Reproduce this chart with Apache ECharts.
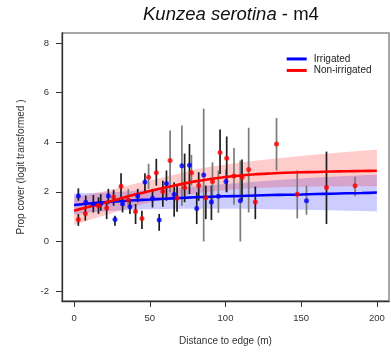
<!DOCTYPE html>
<html>
<head>
<meta charset="utf-8">
<script src="https://cdn.jsdelivr.net/npm/echarts@6/dist/echarts.min.js"></script>
<style>
  html, body { margin: 0; padding: 0; background: #fff; }
  #chart { width: 391px; height: 353px; }
</style>
</head>
<body>
<div id="chart"></div>
<script>
// Tick labels
const xTicks = [0, 50, 100, 150, 200];
const yTicks = [-2, 0, 2, 4, 6, 8];

// Fitted curves along distance to edge (m)
const curveX = [0, 10, 20, 30, 40, 50, 60, 70, 80, 90, 100, 110, 120, 130, 140, 150, 160, 170, 180, 190, 200];
const irrigatedFit   = [1.47, 1.53, 1.58, 1.62, 1.66, 1.69, 1.72, 1.75, 1.78, 1.80, 1.82, 1.83, 1.85, 1.87, 1.88, 1.89, 1.91, 1.92, 1.94, 1.95, 1.97];
const irrigatedLower = [1.10, 1.17, 1.22, 1.25, 1.28, 1.30, 1.31, 1.32, 1.32, 1.32, 1.32, 1.32, 1.31, 1.30, 1.29, 1.28, 1.27, 1.26, 1.24, 1.23, 1.21];
const irrigatedUpper = [1.93, 1.95, 1.97, 2.00, 2.04, 2.08, 2.12, 2.16, 2.21, 2.26, 2.31, 2.36, 2.41, 2.46, 2.50, 2.54, 2.58, 2.61, 2.64, 2.67, 2.69];
const nonIrrFit      = [1.24, 1.40, 1.55, 1.72, 1.89, 2.03, 2.17, 2.30, 2.42, 2.52, 2.60, 2.66, 2.71, 2.74, 2.77, 2.79, 2.80, 2.82, 2.83, 2.84, 2.85];
const nonIrrLower    = [0.65, 0.86, 1.05, 1.24, 1.42, 1.57, 1.70, 1.82, 1.93, 2.01, 2.07, 2.11, 2.15, 2.17, 2.19, 2.20, 2.21, 2.21, 2.22, 2.22, 2.22];
const nonIrrUpper    = [1.78, 1.89, 2.02, 2.16, 2.32, 2.46, 2.60, 2.75, 2.90, 3.01, 3.10, 3.18, 3.25, 3.32, 3.38, 3.44, 3.50, 3.55, 3.60, 3.65, 3.70];

// Observed plots: distance, mean, lower and upper bound
const irrigatedX  = [2.8, 7.7, 12.7, 17.6, 22.6, 27.0, 32.0, 36.9, 42.0, 46.8, 51.8, 56.2, 61.0, 66.1, 71.2, 76.2, 81.0, 85.6, 90.7, 95.3, 100.3, 109.8, 153.5];
const irrigatedY  = [1.83, 1.58, 1.51, 1.53, 1.83, 0.88, 1.51, 1.40, 1.83, 2.40, 1.74, 0.86, 2.34, 1.89, 3.05, 3.07, 1.33, 2.68, 1.59, 1.82, 2.42, 1.64, 1.64];
const irrigatedLo = [1.64, 1.31, 1.17, 1.24, 1.51, 0.63, 1.17, 1.11, 1.58, 2.00, 1.37, 0.43, 1.64, 1.00, 1.44, 1.91, 0.70, 0.00, 0.86, 1.15, 2.00, 0.00, 1.08];
const irrigatedHi = [2.14, 1.85, 1.87, 1.91, 2.12, 1.04, 1.78, 1.64, 2.12, 2.75, 2.12, 1.11, 2.86, 2.38, 4.67, 3.93, 1.98, 5.35, 2.25, 2.86, 2.90, 3.26, 2.24];

const nonIrrX  = [2.8, 7.4, 16.1, 21.5, 26.1, 31.0, 35.8, 40.6, 44.8, 49.2, 54.3, 58.6, 63.4, 68.0, 73.0, 77.5, 82.3, 87.0, 91.4, 96.4, 100.8, 105.6, 110.9, 115.3, 119.7, 133.7, 147.4, 166.7, 185.6];
const nonIrrY  = [0.88, 1.13, 1.44, 1.35, 1.79, 2.22, 1.67, 1.21, 0.92, 2.59, 2.77, 2.01, 3.26, 1.74, 2.17, 2.77, 2.25, 1.76, 2.42, 3.58, 3.35, 2.64, 2.59, 2.90, 1.59, 3.93, 1.90, 2.17, 2.24];
const nonIrrLo = [0.63, 0.84, 1.11, 0.90, 1.44, 1.78, 1.44, 0.70, 0.50, 2.12, 2.25, 1.40, 1.98, 1.20, 1.58, 2.25, 1.64, 0.90, 1.64, 2.72, 1.98, 1.48, 1.64, 1.17, 0.90, 2.86, 0.93, 0.70, 1.82];
const nonIrrHi = [1.11, 1.37, 1.78, 1.64, 2.08, 2.75, 2.12, 1.51, 1.24, 3.13, 3.33, 2.45, 4.47, 2.30, 3.54, 3.49, 2.79, 2.25, 3.19, 4.51, 4.23, 3.77, 3.30, 4.58, 2.21, 4.97, 2.86, 3.62, 2.61];

// Rendering styles
const BLUE = '#0000ff';
const RED = '#ff0000';
const BAR_DARK = '#1e1e1e';
const BAR_GREY = '#7a7a7a';
const greyBarsIrrigated = new Set([14, 17, 19, 20, 21, 22]);
const greyBarsNonIrr = new Set([6, 9, 12, 15, 18, 21, 23, 25, 26, 28]);

const zip2 = (xs, ys) => xs.map((x, i) => [x, ys[i]]);
const zip3 = (xs, lo, hi) => xs.map((x, i) => [x, lo[i], hi[i]]);

function bandSeries(lower, upper, fill) {
  return {
    type: 'custom',
    silent: true,
    z: 1,
    data: [[curveX[0], lower[0]]],
    renderItem: (params, api) => {
      const pts = [];
      for (let i = 0; i < curveX.length; i++) pts.push(api.coord([curveX[i], upper[i]]));
      for (let i = curveX.length - 1; i >= 0; i--) pts.push(api.coord([curveX[i], lower[i]]));
      return { type: 'polygon', shape: { points: pts }, style: { fill: fill, stroke: null } };
    }
  };
}

function barSeries(xs, lo, hi, greySet) {
  return {
    type: 'custom',
    silent: true,
    z: 2,
    data: zip3(xs, lo, hi),
    encode: { x: 0, y: [1, 2] },
    renderItem: (params, api) => {
      const a = api.coord([api.value(0), api.value(1)]);
      const b = api.coord([api.value(0), api.value(2)]);
      return {
        type: 'line',
        shape: { x1: a[0], y1: a[1], x2: b[0], y2: b[1] },
        style: { stroke: greySet.has(params.dataIndex) ? BAR_GREY : BAR_DARK, lineWidth: 1.7 }
      };
    }
  };
}

const chart = echarts.init(document.getElementById('chart'), null, { renderer: 'canvas' });

chart.setOption({
  animation: false,
  backgroundColor: '#fff',
  textStyle: { fontFamily: 'Liberation Sans, Arial, sans-serif' },
  title: {
    text: '{i|Kunzea serotina}{n| - m4}',
    left: 143,
    top: 4,
    padding: 0,
    textStyle: {
      fontWeight: 'normal',
      fontSize: 18.5,
      rich: {
        i: { fontStyle: 'italic', fontWeight: 'normal', fontSize: 18.5, color: '#111', fontFamily: 'Liberation Sans', lineHeight: 22 },
        n: { fontWeight: 'normal', fontSize: 18.5, color: '#111', fontFamily: 'Liberation Sans', lineHeight: 22 }
      }
    }
  },
  legend: {
    orient: 'vertical',
    left: 286.7,
    top: 53.2,
    padding: 0,
    itemGap: 0,
    itemWidth: 20,
    itemHeight: 3,
    icon: 'rect',
    data: ['Irrigated', 'Non-irrigated'],
    textStyle: { fontSize: 10, color: '#222', lineHeight: 11.5, padding: [0, 0, 0, 2] }
  },
  grid: {
    left: 62, right: 2, top: 33, bottom: 52,
    show: true, borderColor: '#8a8a8a', borderWidth: 1.5,
    containLabel: false, outerBoundsMode: 'none'
  },
  xAxis: {
    type: 'value',
    min: -8, max: 208,
    splitLine: { show: false },
    axisLine: { show: true, onZero: false, lineStyle: { color: '#333', width: 1.3 } },
    axisTick: { show: true, length: 6, customValues: xTicks, lineStyle: { color: '#333' } },
    axisLabel: { customValues: xTicks, margin: 12, fontSize: 9.5, color: '#333' },
    name: 'Distance to edge (m)',
    nameLocation: 'middle',
    nameGap: 35,
    nameTextStyle: { fontSize: 10, color: '#333' }
  },
  yAxis: {
    type: 'value',
    min: -2.4, max: 8.4,
    splitLine: { show: false },
    axisLine: { show: true, onZero: false, lineStyle: { color: '#333', width: 1.3 } },
    axisTick: { show: true, length: 6, customValues: yTicks, lineStyle: { color: '#333' } },
    axisLabel: { customValues: yTicks, margin: 13, fontSize: 9.5, color: '#333' },
    name: 'Prop cover (logit transformed )',
    nameLocation: 'middle',
    nameGap: 36,
    nameTextStyle: { fontSize: 10, color: '#333' }
  },
  series: [
    bandSeries(irrigatedLower, irrigatedUpper, 'rgba(0,0,255,0.2)'),
    bandSeries(nonIrrLower, nonIrrUpper, 'rgba(255,0,0,0.2)'),
    barSeries(irrigatedX, irrigatedLo, irrigatedHi, greyBarsIrrigated),
    barSeries(nonIrrX, nonIrrLo, nonIrrHi, greyBarsNonIrr),
    {
      name: 'Irrigated', type: 'line', z: 3, showSymbol: false, smooth: 0.2, silent: true,
      data: zip2(curveX, irrigatedFit),
      itemStyle: { color: BLUE }, lineStyle: { color: BLUE, width: 2.6 }
    },
    {
      name: 'Non-irrigated', type: 'line', z: 3, showSymbol: false, smooth: 0.2, silent: true,
      data: zip2(curveX, nonIrrFit),
      itemStyle: { color: RED }, lineStyle: { color: RED, width: 2.6 }
    },
    {
      type: 'scatter', z: 4, symbolSize: 5, silent: true,
      data: zip2(irrigatedX, irrigatedY), itemStyle: { color: BLUE }
    },
    {
      type: 'scatter', z: 4, symbolSize: 5, silent: true,
      data: zip2(nonIrrX, nonIrrY), itemStyle: { color: RED }
    }
  ]
});
</script>
</body>
</html>
